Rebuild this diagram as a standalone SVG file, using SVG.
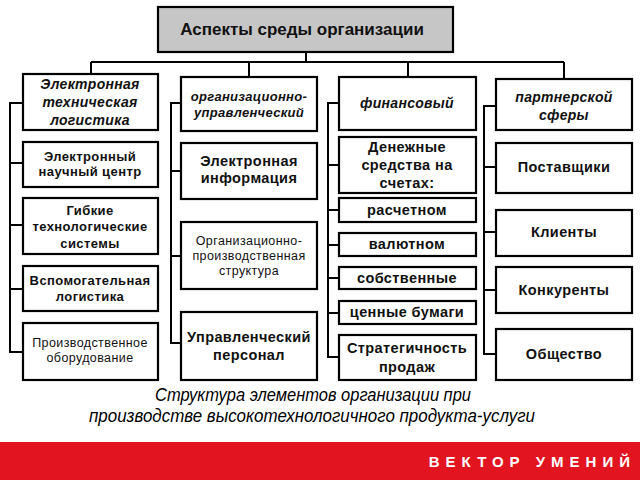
<svg xmlns="http://www.w3.org/2000/svg" width="640" height="480" viewBox="0 0 640 480">
<style>
.box{fill:#fff;stroke:#000;stroke-width:2.2}
.title{fill:#c6c6c6;stroke:#000;stroke-width:2.2}
.ln{fill:none;stroke:#000;stroke-width:2}
text{font-family:"Liberation Sans",Arial,sans-serif;text-anchor:middle;fill:#111}
.b{font-weight:bold;font-size:13px;letter-spacing:0.4px}
.b2{font-weight:bold;font-size:14.5px;letter-spacing:0.4px}
.bl{font-weight:bold;font-size:14.5px;letter-spacing:0.4px}
.h{font-weight:bold;font-style:italic;font-size:14px;letter-spacing:0.3px}
.r{font-size:12.5px;letter-spacing:0.4px}
.cap{font-style:italic;font-size:18px;fill:#000}
.brand{font-weight:bold;font-size:15px;letter-spacing:6px;fill:#fff;text-anchor:end}
</style>
<rect width="640" height="480" fill="#fff"/>
<g id="connectors">
<path class="ln" d="M306 52V62M91 62H564M91 62V74M249 62V77M408 62V77M564 62V79"/>
<path class="ln" d="M23 103H10V352H23M10 163H23M10 225H23M10 289H23"/>
<path class="ln" d="M181 103H171V343H181M171 171H181M171 256H181"/>
<path class="ln" d="M339 103H328V357H339M328 165H339M328 210H339M328 245H339M328 278H339M328 313H339"/>
<path class="ln" d="M496 106H484V354H496M484 167H496M484 232H496M484 290H496"/>
</g>
<g id="title"><rect class="title" x="158" y="7" width="295" height="45"/><text x="302" y="35" style="font-weight:bold;font-size:17px">Аспекты среды организации</text></g>
<g id="c1h"><rect class="box" x="23" y="74" width="135" height="56"/><text class="h" x="90" y="89">Электронная</text><text class="h" x="90" y="107">техническая</text><text class="h" x="90" y="125">логистика</text></g>
<g id="c1b2"><rect class="box" x="23" y="142" width="135" height="45"/><text class="b" x="90" y="161">Электронный</text><text class="b" x="90" y="176">научный центр</text></g>
<g id="c1b3"><rect class="box" x="23" y="198" width="135" height="56"/><text class="b" x="90" y="215">Гибкие</text><text class="b" x="90" y="231">технологические</text><text class="b" x="90" y="248">системы</text></g>
<g id="c1b4"><rect class="box" x="23" y="266" width="135" height="45"/><text class="b" x="90" y="285">Вспомогательная</text><text class="b" x="90" y="301">логистика</text></g>
<g id="c1b5"><rect class="box" x="23" y="323" width="135" height="57"/><text class="r" x="90" y="347">Производственное</text><text class="r" x="90" y="362">оборудование</text></g>
<g id="c2h"><rect class="box" x="181" y="77" width="136" height="54"/><text class="h" x="249" y="101" style="font-size:13px">организационно-</text><text class="h" x="249" y="117" style="font-size:13px">управленческий</text></g>
<g id="c2b2"><rect class="box" x="181" y="143" width="136" height="56"/><text class="bl" x="249" y="166">Электронная</text><text class="bl" x="249" y="183">информация</text></g>
<g id="c2b3"><rect class="box" x="181" y="222" width="136" height="67"/><text class="r" x="249" y="245">Организационно-</text><text class="r" x="249" y="260">производственная</text><text class="r" x="249" y="275">структура</text></g>
<g id="c2b4"><rect class="box" x="181" y="312" width="136" height="68"/><text class="bl" x="249" y="342">Управленческий</text><text class="bl" x="249" y="360">персонал</text></g>
<g id="c3h"><rect class="box" x="339" y="77" width="137" height="53"/><text class="h" x="407" y="108">финансовый</text></g>
<g id="c3b2"><rect class="box" x="339" y="137" width="137" height="56"/><text class="b2" x="407" y="152">Денежные</text><text class="b2" x="407" y="170">средства на</text><text class="b2" x="407" y="188">счетах:</text></g>
<g id="c3b3"><rect class="box" x="339" y="198" width="137" height="24"/><text class="b2" x="407" y="215">расчетном</text></g>
<g id="c3b4"><rect class="box" x="339" y="233" width="137" height="23"/><text class="b2" x="407" y="249">валютном</text></g>
<g id="c3b5"><rect class="box" x="339" y="267" width="137" height="22"/><text class="b2" x="407" y="283">собственные</text></g>
<g id="c3b6"><rect class="box" x="339" y="301" width="137" height="23"/><text class="b2" x="407" y="317">ценные бумаги</text></g>
<g id="c3b7"><rect class="box" x="339" y="335" width="137" height="45"/><text class="b2" x="407" y="353">Стратегичность</text><text class="b2" x="407" y="372">продаж</text></g>
<g id="c4h"><rect class="box" x="496" y="79" width="136" height="51"/><text class="h" x="564" y="102">партнерской</text><text class="h" x="564" y="120">сферы</text></g>
<g id="c4b2"><rect class="box" x="496" y="143" width="136" height="50"/><text class="b2" x="564" y="172">Поставщики</text></g>
<g id="c4b3"><rect class="box" x="496" y="210" width="136" height="46"/><text class="b2" x="564" y="237">Клиенты</text></g>
<g id="c4b4"><rect class="box" x="496" y="267" width="136" height="46"/><text class="b2" x="564" y="295">Конкуренты</text></g>
<g id="c4b5"><rect class="box" x="496" y="329" width="136" height="51"/><text class="b2" x="564" y="359">Общество</text></g>
<g id="caption"><text class="cap" x="313" y="401" textLength="316" lengthAdjust="spacingAndGlyphs">Структура элементов организации при</text><text class="cap" x="312" y="422" textLength="446" lengthAdjust="spacingAndGlyphs">производстве высокотехнологичного продукта-услуги</text></g>
<rect x="0" y="442" width="640" height="38" fill="#e2141f"/>
<text class="brand" x="636" y="467">ВЕКТОР УМЕНИЙ</text>
</svg>
